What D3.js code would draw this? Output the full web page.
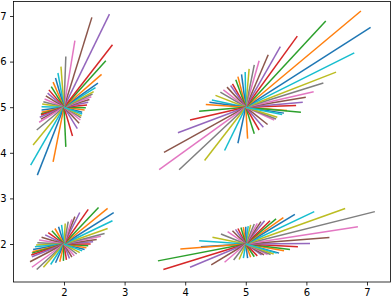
<!doctype html>
<html>
  <head>
    <script src="https://cdn.jsdelivr.net/npm/d3@7"></script>
    <style>
      body { margin: 0; background: #fff; }
      .tick text { font-family: "DejaVu Sans", sans-serif; font-size: 10px; fill: #000; }
      .tick line { stroke: #000; stroke-width: 0.8; }
    </style>
  </head>
  <body>
    <script>
        // four clusters, 50 strokes each, offsets from the cluster centre (data units)
        var centers = [[2, 5], [5, 5], [2, 2], [5, 2]];
        var xTicks = [2, 3, 4, 5, 6, 7];
        var yTicks = [2, 3, 4, 5, 6, 7];

        var topLeft = [
            [0.30,-0.11],[0.34,-0.06],[0.36,-0.01],[0.38,0.05],[0.40,0.11],[0.42,0.17],[0.45,0.23],[0.47,0.29],[0.49,0.34],[0.52,0.43],
            [0.56,0.53],[0.62,0.72],[0.69,1.02],[0.80,1.37],[0.75,2.04],[0.46,1.97],[0.18,1.46],[0.03,1.11],[-0.05,0.89],[-0.10,0.75],
            [-0.14,0.64],[-0.18,0.55],[-0.21,0.45],[-0.25,0.38],[-0.27,0.31],[-0.30,0.25],[-0.32,0.18],[-0.34,0.12],[-0.36,0.07],[-0.37,0.01],
            [-0.37,-0.06],[-0.37,-0.11],[-0.38,-0.15],[-0.38,-0.17],[-0.40,-0.22],[-0.38,-0.26],[-0.41,-0.33],[-0.45,-0.50],[-0.51,-0.83],[-0.55,-1.27],
            [-0.44,-1.49],[-0.18,-1.20],[0.03,-0.87],[0.14,-0.63],[0.22,-0.47],[0.25,-0.35],[0.27,-0.28],[0.28,-0.23],[0.29,-0.19],[0.30,-0.15]
        ];
        var topRight = [
            [0.63,-0.13],[0.68,-0.07],[0.91,-0.11],[0.83,0.04],[0.94,0.11],[0.99,0.22],[1.12,0.34],[1.28,0.53],[1.49,0.77],[1.79,1.19],
            [2.06,1.75],[1.90,2.11],[1.32,1.89],[0.85,1.56],[0.57,1.33],[0.37,1.15],[0.22,1.02],[0.14,0.93],[0.055,0.84],[-0.01,0.77],
            [-0.07,0.72],[-0.13,0.67],[-0.165,0.60],[-0.22,0.51],[-0.25,0.475],[-0.31,0.44],[-0.37,0.38],[-0.42,0.33],[-0.50,0.26],[-0.56,0.16],
            [-0.60,0.11],[-0.66,0.06],[-0.77,-0.09],[-0.92,-0.28],[-1.12,-0.56],[-1.35,-0.99],[-1.43,-1.37],[-1.10,-1.37],[-0.68,-1.17],[-0.35,-0.95],
            [-0.13,-0.79],[0.03,-0.69],[0.14,-0.58],[0.22,-0.50],[0.29,-0.44],[0.36,-0.38],[0.47,-0.28],[0.50,-0.26],[0.52,-0.22],[0.60,-0.16]
        ];
        var bottomLeft = [
            [0.34,-0.12],[0.37,-0.08],[0.40,-0.04],[0.44,0.00],[0.48,0.05],[0.54,0.10],[0.61,0.17],[0.67,0.23],[0.72,0.34],[0.80,0.51],
            [0.82,0.69],[0.72,0.78],[0.57,0.80],[0.40,0.76],[0.26,0.69],[0.18,0.60],[0.13,0.54],[0.07,0.49],[0.02,0.45],[-0.04,0.42],
            [-0.09,0.38],[-0.15,0.34],[-0.20,0.29],[-0.26,0.25],[-0.31,0.20],[-0.37,0.15],[-0.41,0.09],[-0.44,0.03],[-0.46,-0.02],[-0.48,-0.06],
            [-0.51,-0.12],[-0.52,-0.17],[-0.53,-0.20],[-0.54,-0.24],[-0.53,-0.28],[-0.56,-0.39],[-0.53,-0.51],[-0.45,-0.56],[-0.34,-0.51],[-0.22,-0.45],
            [-0.14,-0.41],[-0.07,-0.39],[-0.01,-0.37],[0.04,-0.35],[0.09,-0.32],[0.13,-0.29],[0.17,-0.26],[0.21,-0.22],[0.26,-0.19],[0.30,-0.15]
        ];
        var bottomRight = [
            [0.55,-0.20],[0.63,-0.15],[0.73,-0.12],[0.86,-0.06],[1.06,0.01],[1.38,0.14],[1.85,0.38],[2.13,0.71],[1.64,0.78],[1.13,0.71],
            [0.81,0.65],[0.62,0.58],[0.50,0.55],[0.40,0.51],[0.31,0.51],[0.25,0.49],[0.19,0.45],[0.14,0.44],[0.08,0.42],[0.04,0.39],
            [0.00,0.38],[-0.04,0.37],[-0.08,0.36],[-0.13,0.34],[-0.17,0.32],[-0.22,0.29],[-0.30,0.27],[-0.41,0.22],[-0.55,0.15],[-0.77,0.07],
            [-0.74,-0.06],[-1.08,-0.11],[-1.45,-0.37],[-1.36,-0.56],[-0.92,-0.51],[-0.57,-0.46],[-0.35,-0.40],[-0.20,-0.35],[-0.11,-0.34],[-0.04,-0.31],
            [0.03,-0.31],[0.08,-0.29],[0.14,-0.28],[0.19,-0.26],[0.26,-0.24],[0.30,-0.24],[0.36,-0.23],[0.41,-0.23],[0.46,-0.22],[0.51,-0.20]
        ];
        var clusters = [topLeft, topRight, bottomLeft, bottomRight];

        var width = 392, height = 298;
        var box = {left: 13.5, right: 390.5, top: 1.5, bottom: 282};

        var svg = d3.select("body").append("svg")
            .attr("width", width)
            .attr("height", height);

        var x = d3.scaleLinear().domain([1.1667, 7.388]).range([box.left, box.right]);
        var y = d3.scaleLinear().domain([1.1667, 7.318]).range([box.bottom, box.top]);

        var color = d3.scaleOrdinal(d3.schemeCategory10).domain(d3.range(10));

        var plot = svg.append("g");

        clusters.forEach(function(ends, c){
            var cx = centers[c][0], cy = centers[c][1];
            plot.selectAll(".seg-" + c)
                .data(ends)
                .enter().append("line")
                .attr("class", "seg-" + c)
                .attr("x1", x(cx))
                .attr("y1", y(cy))
                .attr("x2", d => x(cx + d[0]))
                .attr("y2", d => y(cy + d[1]))
                .attr("stroke", (d, i) => color(i % 10))
                .attr("stroke-width", 1.5)
                .attr("stroke-linecap", "butt");
        });

        // axes
        svg.append("g")
            .attr("transform", `translate(0,${box.bottom})`)
            .call(d3.axisBottom(x).tickValues(xTicks).tickFormat(d3.format("d")).tickSize(3.5).tickPadding(3.5))
            .call(g => g.select(".domain").remove());

        svg.append("g")
            .attr("transform", `translate(${box.left},0)`)
            .call(d3.axisLeft(y).tickValues(yTicks).tickFormat(d3.format("d")).tickSize(3.5).tickPadding(3.5))
            .call(g => g.select(".domain").remove());

        // frame
        svg.append("rect")
            .attr("x", box.left)
            .attr("y", box.top)
            .attr("width", box.right - box.left)
            .attr("height", box.bottom - box.top)
            .attr("fill", "none")
            .attr("stroke", "#000")
            .attr("stroke-width", 0.8);
    </script>
  </body>
</html>
